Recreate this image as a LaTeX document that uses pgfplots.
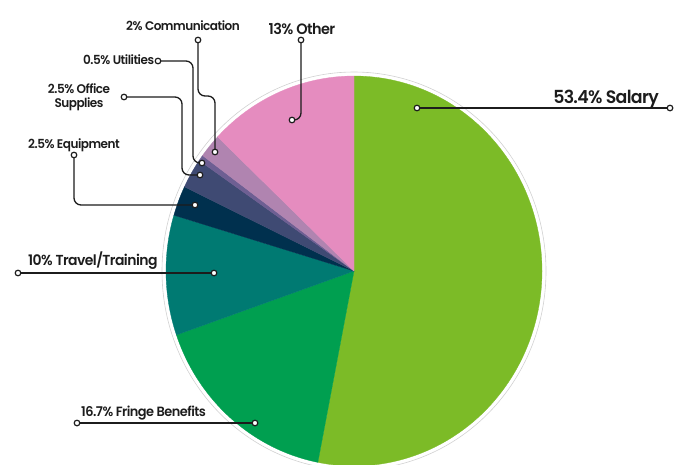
\documentclass[border=0pt]{standalone}
\usepackage{pgfplots}
\pgfplotsset{compat=1.18}
\usepackage{fontspec}
\setmainfont{Poppins}[UprightFont=* SemiBold, LetterSpace=-4]

\definecolor{cSal}{HTML}{7CBB27}
\definecolor{cFri}{HTML}{009F50}
\definecolor{cTra}{HTML}{007A72}
\definecolor{cEqu}{HTML}{00304E}
\definecolor{cOff}{HTML}{3F4A73}
\definecolor{cUti}{HTML}{6E5F93}
\definecolor{cCom}{HTML}{B084B0}
\definecolor{cOth}{HTML}{E58CBF}
\definecolor{ink}{HTML}{1C1C1C}

\begin{document}
\begin{tikzpicture}
\begin{axis}[
    width=682pt, height=464pt, scale only axis,
    hide axis,
    xmin=0, xmax=682, ymin=0, ymax=464,
    y dir=reverse,
    ]
\path (rel axis cs:0,0) rectangle (rel axis cs:1,1);

% pie: share in %, clockwise from the top
\pgfmathsetmacro\tot{100.6}
\xdef\angA{90}
\foreach \v/\c in {53.4/cSal,16.7/cFri,10/cTra,2.5/cEqu,2.5/cOff,0.5/cUti,2/cCom,13/cOth}{
  \pgfmathsetmacro\angB{\angA-\v/\tot*360}
  \edef\temp{\noexpand\fill[fill=\c,draw=\c,line width=0.3pt]
    (axis cs:354,271) -- ++(\angA:188pt and 195pt)
    arc[start angle=\angA, end angle=\angB, x radius=188pt, y radius=195pt] -- cycle;}
  \temp
  \xdef\angA{\angB}
}
\draw[black!18, line width=0.6pt] (axis cs:354,271) ellipse [x radius=192pt, y radius=199pt];

% leader lines
\begin{scope}[ink, line width=1.3pt, rounded corners=7pt]
\draw (axis cs:417,108) -- (axis cs:670,108);
\draw (axis cs:301,40) -- (axis cs:301,120) -- (axis cs:292,120);
\draw (axis cs:198,40) -- (axis cs:198,96) -- (axis cs:215,96) -- (axis cs:215,152);
\draw (axis cs:158,61) -- (axis cs:193,61) -- (axis cs:193,163) -- (axis cs:202,163);
\draw (axis cs:124,97) -- (axis cs:182,97) -- (axis cs:182,175) -- (axis cs:200,175);
\draw (axis cs:74,155) -- (axis cs:74,205) -- (axis cs:195,205);
\draw (axis cs:18,273) -- (axis cs:214,273);
\draw (axis cs:77,423) -- (axis cs:255,423);
\end{scope}

\addplot[only marks, mark=*, mark size=2.8pt,
  mark options={fill=white, draw=ink, line width=1.2pt}] coordinates {
  (417,108) (670,108) (301,40) (292,120) (198,40) (215,152)
  (158,61) (202,163) (124,97) (200,175) (74,155) (195,205)
  (18,273) (214,273) (77,423) (255,423)};

% labels
\begin{scope}[ink, inner sep=0pt, every node/.append style={xscale=0.964}]
\node[anchor=base east, font=\fontsize{18}{22}\selectfont] at (axis cs:659,103) {53.4\% Salary};
\node[anchor=base, font=\fontsize{15}{18}\selectfont] at (axis cs:302,34) {13\% Other};
\node[anchor=base west, font=\fontsize{12.5}{14}\selectfont] at (axis cs:126,30.5) {2\% Communication};
\node[anchor=base west, font=\fontsize{12.5}{14}\selectfont] at (axis cs:83,64.5) {0.5\% Utilities};
\node[anchor=base, align=center, font=\fontsize{12.5}{13.5}\selectfont] at (axis cs:79,107) {2.5\% Office\\Supplies};
\node[anchor=base west, font=\fontsize{12.5}{14}\selectfont] at (axis cs:28,148) {2.5\% Equipment};
\node[anchor=base west, font=\fontsize{14.5}{17}\selectfont] at (axis cs:28,265) {10\% Travel/Training};
\node[anchor=base west, font=\fontsize{13.4}{16}\selectfont] at (axis cs:81,416.5) {16.7\% Fringe Benefits};
\end{scope}
\end{axis}
\end{tikzpicture}
\end{document}
